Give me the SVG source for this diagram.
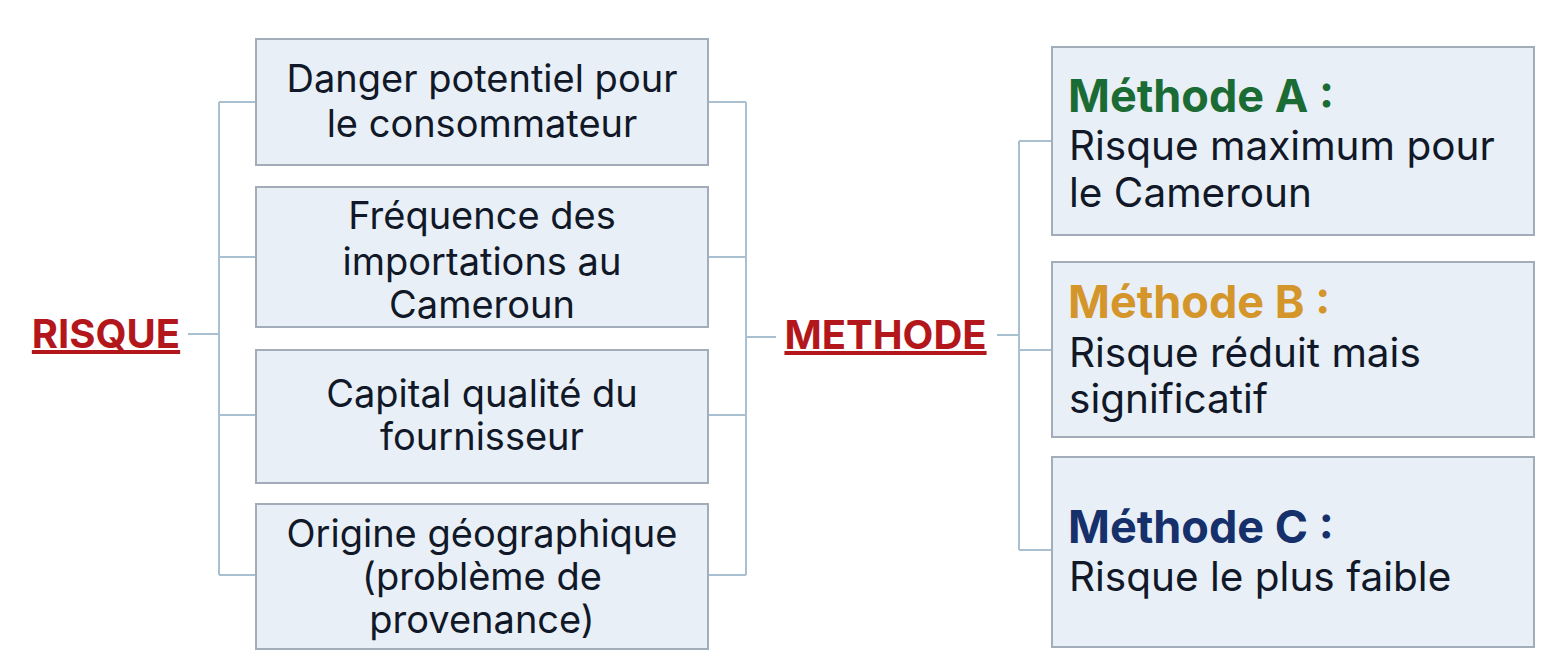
<svg xmlns="http://www.w3.org/2000/svg" width="1564" height="672" viewBox="0 0 1564 672">
<style>
.box{fill:#e8eff7;stroke:#a3adba;stroke-width:2}
.con{fill:none;stroke:#a8c0d0;stroke-width:2}
.t{font-family:Inter,"Noto Sans","Liberation Sans",sans-serif;font-size:38px;fill:#111827}
.r{font-size:40.5px}
.c{text-anchor:middle}
.h{font-family:Inter,"Noto Sans","Liberation Sans",sans-serif;font-size:45px;font-weight:700}
.title{font-family:Inter,"Noto Sans","Liberation Sans",sans-serif;font-size:40px;font-weight:700;fill:#b3171c;text-decoration:underline;text-anchor:middle}
</style>
<rect width="1564" height="672" fill="#ffffff"/>
<g id="connectors">
<path class="con" d="M188 334H219M219 102V575M219 102H256M219 257H256M219 415H256M219 575H256"/>
<path class="con" d="M708 102H746M708 257H746M708 415H746M708 575H746M746 102V575M746 337H776"/>
<path class="con" d="M997 335H1019M1019 141V550M1019 141H1052M1019 350H1052M1019 550H1052"/>
</g>
<g id="risque"><text class="title" x="106" y="348">RISQUE</text></g>
<g id="methode"><text class="title" x="885.5" y="349">METHODE</text></g>
<g id="n1"><rect class="box" x="256" y="39" width="452" height="126"/>
<text class="t c" x="482" y="92">Danger potentiel pour</text>
<text class="t c" x="482" y="137">le consommateur</text></g>
<g id="n2"><rect class="box" x="256" y="187" width="452" height="140"/>
<text class="t c" x="482" y="229">Fréquence des</text>
<text class="t c" x="482" y="275">importations au</text>
<text class="t c" x="482" y="318">Cameroun</text></g>
<g id="n3"><rect class="box" x="256" y="350" width="452" height="133"/>
<text class="t c" x="482" y="407">Capital qualité du</text>
<text class="t c" x="482" y="450">fournisseur</text></g>
<g id="n4"><rect class="box" x="256" y="504" width="452" height="145"/>
<text class="t c" x="482" y="547">Origine géographique</text>
<text class="t c" x="482" y="590">(problème de</text>
<text class="t c" x="482" y="633">provenance)</text></g>
<g id="mA"><rect class="box" x="1052" y="47" width="482" height="188"/>
<text class="h" x="1068" y="112" fill="#1b6b35">Méthode A :</text>
<text class="t r" x="1069" y="160">Risque maximum pour</text>
<text class="t r" x="1069" y="207">le Cameroun</text></g>
<g id="mB"><rect class="box" x="1052" y="262" width="482" height="175"/>
<text class="h" x="1068" y="318" fill="#d4962a">Méthode B :</text>
<text class="t r" x="1069" y="367">Risque réduit mais</text>
<text class="t r" x="1069" y="413">significatif</text></g>
<g id="mC"><rect class="box" x="1052" y="457" width="482" height="190"/>
<text class="h" x="1068" y="543" fill="#15306a">Méthode C :</text>
<text class="t r" x="1069" y="591">Risque le plus faible</text></g>
</svg>
